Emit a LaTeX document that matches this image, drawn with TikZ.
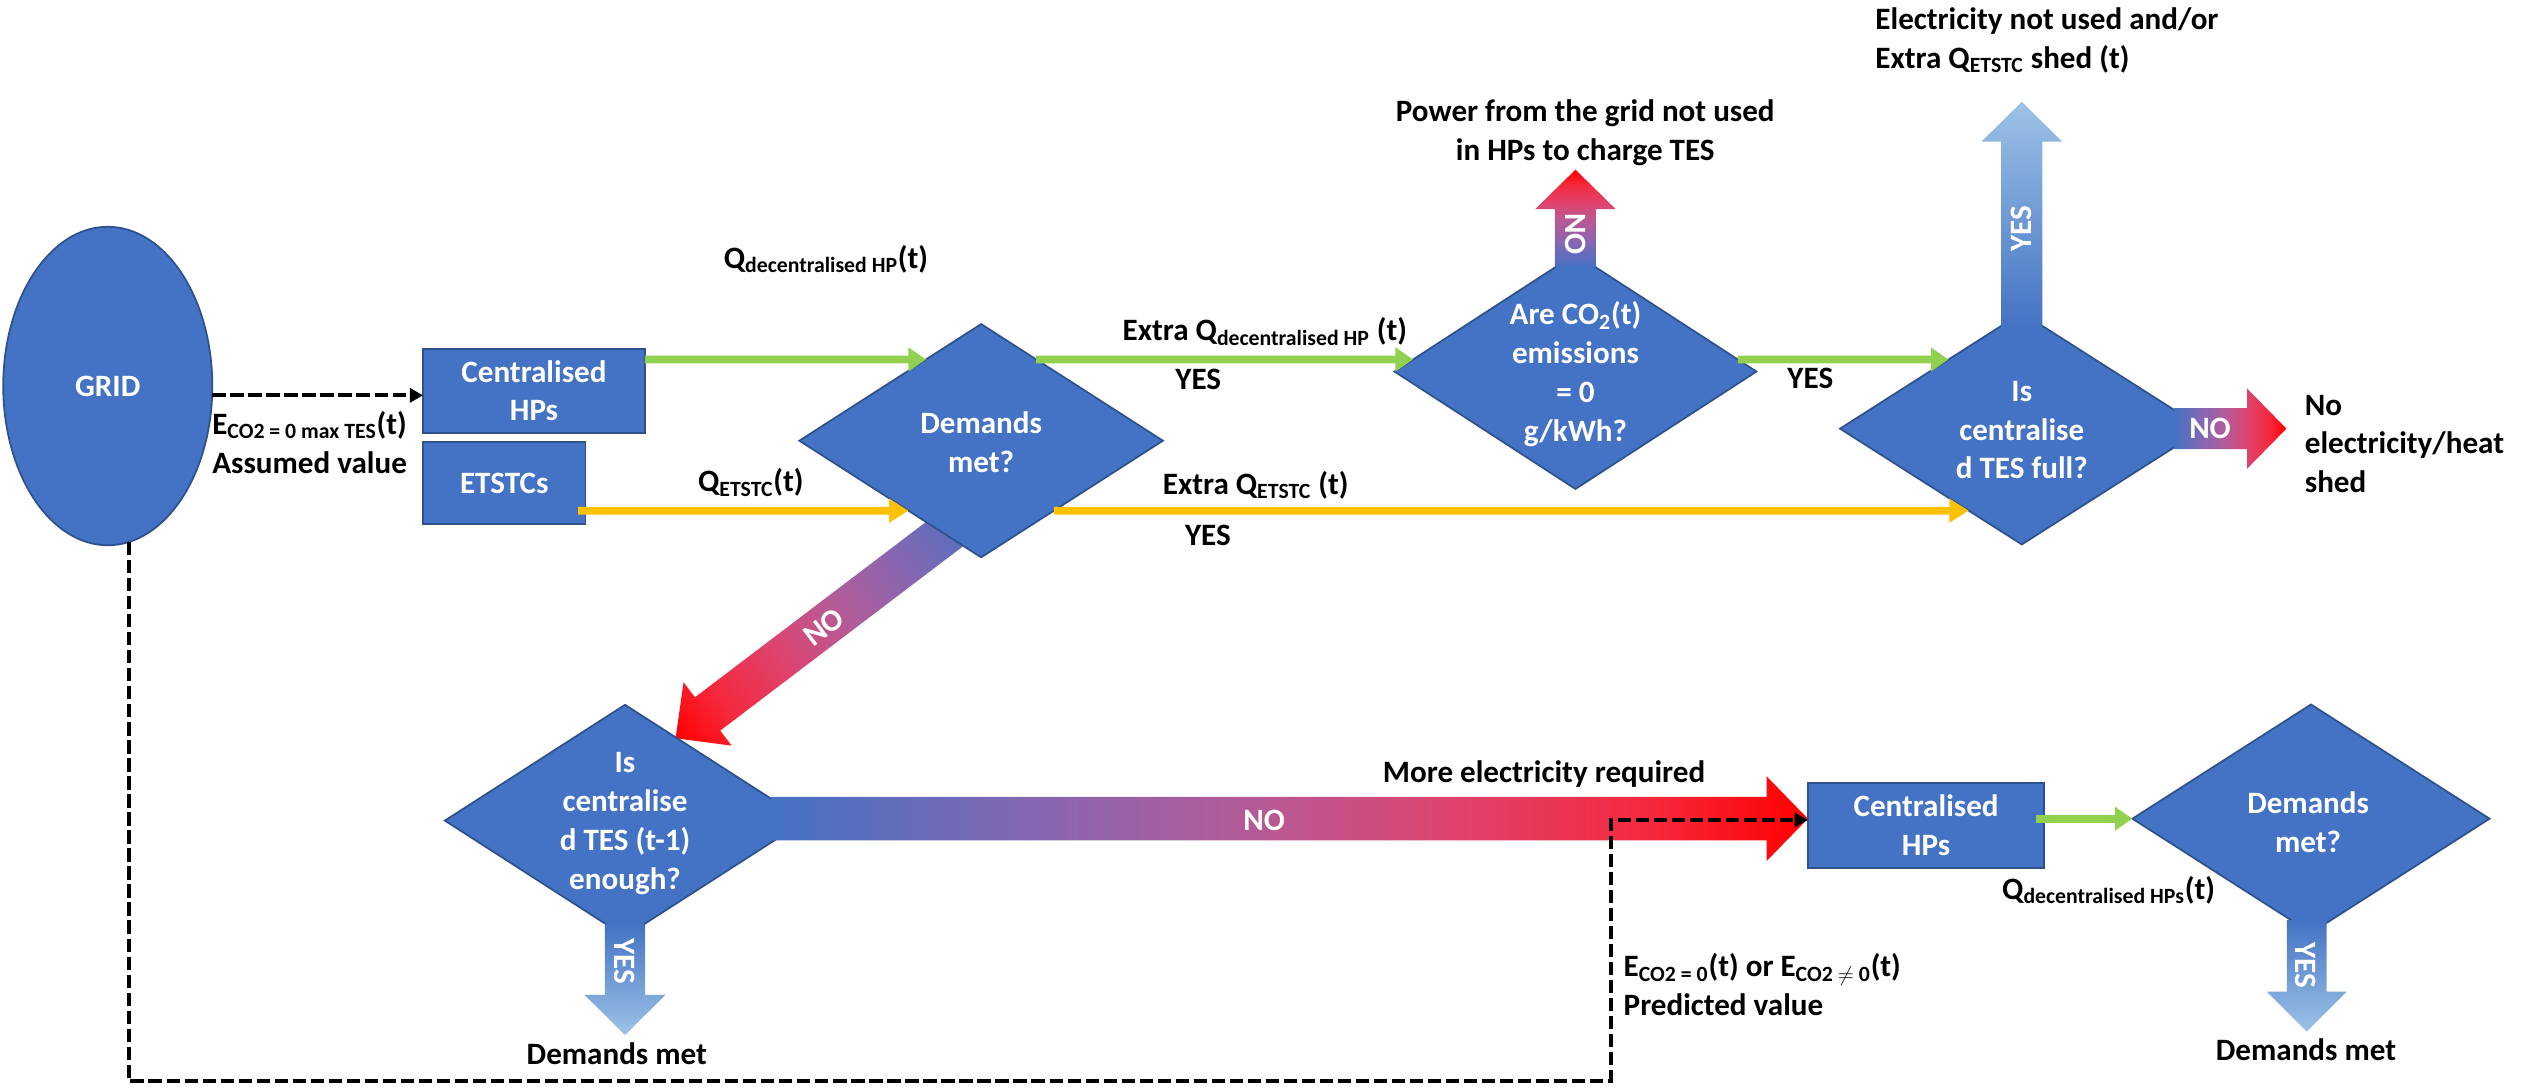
\documentclass[tikz,border=0pt]{standalone}
\usepackage{fontspec}
\setmainfont{Carlito}
\usetikzlibrary{shapes.geometric,arrows.meta,calc,backgrounds}
\definecolor{pblue}{HTML}{4472C4}
\definecolor{pborder}{HTML}{2F528F}
\definecolor{pgreen}{HTML}{92D050}
\definecolor{porange}{HTML}{FFC000}
\definecolor{plight}{HTML}{9DC3E6}
\definecolor{pred}{HTML}{FF0000}
\definecolor{gra}{HTML}{8A66B0}
\definecolor{grb}{HTML}{B65A96}
\definecolor{grc}{HTML}{DE4470}
\definecolor{grd}{HTML}{F5283C}
\pgfdeclarehorizontalshading{nogr}{100bp}{color(0bp)=(pblue); color(25bp)=(pblue); color(38.5bp)=(gra); color(48.5bp)=(grb); color(57.5bp)=(grc); color(67.5bp)=(grd); color(75bp)=(pred); color(100bp)=(pred)}
\newcommand\mysub[1]{\textsubscript{#1}}
% #1 start, #2 tip, #3 body half width, #4 head half width, #5 head length (units), #6 fill options
\newcommand\blockarrow[6]{%
  \coordinate (ba-h) at ($(#2)!#5*0.032cm!(#1)$);
  \path[#6] ($(#1)!#3*0.032cm!90:(#2)$) -- ($(ba-h)!#3*0.032cm!-90:(#1)$) -- ($(ba-h)!#4*0.032cm!-90:(#1)$) -- (#2) -- ($(ba-h)!#4*0.032cm!90:(#1)$) -- ($(ba-h)!#3*0.032cm!90:(#1)$) -- ($(#1)!#3*0.032cm!-90:(#2)$) -- cycle;}
\tikzset{
  every node/.style={font=\fontsize{17.6}{21.9}\selectfont\bfseries, inner sep=0pt, outer sep=0pt},
  pbox/.style={rectangle, fill=pblue, draw=pborder, line width=1pt, text=white, align=center},
  pdiam/.style={diamond, fill=pblue, draw=pborder, line width=1pt},
  gridnode/.style={ellipse, fill=pblue, draw=pborder, line width=1pt, text=white},
  dtext/.style={text=white, align=center},
  lab/.style={text=black, align=left},
  clab/.style={text=black, align=center},
  wlab/.style={text=white},
  garrow/.style={draw=pgreen, line width=4.4pt, -{Triangle[length=10pt,width=13pt]}},
  oarrow/.style={draw=porange, line width=4.4pt, -{Triangle[length=11pt,width=13pt]}},
  dasharrow/.style={draw=black, line width=2.2pt, dash pattern=on 7.5pt off 2.7pt, -{Triangle[length=7.5pt,width=8pt]}}
}
\begin{document}
\begin{tikzpicture}[x=0.032cm, y=-0.032cm]
\useasboundingbox (0,0) rectangle (1568,676);
% ---------- nodes ----------
\node[gridnode, minimum width=4.16cm, minimum height=6.336cm] (grid) at (67,240) {GRID};
\node[pbox, minimum width=4.416cm, minimum height=1.664cm] (hp1) at (332,243) {Centralised\\HPs};
\node[pbox, minimum width=3.232cm, minimum height=1.632cm] (etstc) at (313.5,300.5) {ETSTCs};
\node[pdiam, minimum width=7.232cm, minimum height=4.64cm] (dm1) at (610,274) {};
\node[pdiam, minimum width=7.2cm, minimum height=4.672cm] (co2) at (979.5,231) {};
\node[pdiam, minimum width=7.232cm, minimum height=4.608cm] (tes) at (1257,266.5) {};
\node[pdiam, minimum width=7.168cm, minimum height=4.608cm] (tdiam) at (388.6,510.2) {};
\node[pbox, minimum width=4.704cm, minimum height=1.68cm] (hp2) at (1197.5,513.25) {Centralised\\HPs};
\node[pdiam, minimum width=7.104cm, minimum height=4.544cm] (dm2) at (1436.8,509) {};
% diamond texts
\node[dtext] (dm1t) at (610,275) {Demands\\met?};
\node[dtext] (co2t) at (979.5,232.6) {Are CO\mysub{2}(t)\\emissions\\= 0\\g/kWh?};
\node[dtext] (test) at (1257,267.5) {Is\\centralise\\d TES full?};
\node[dtext] (tdiamt) at (388.6,512) {Is\\centralise\\d TES (t-1)\\enough?};
\node[dtext] (dm2t) at (1435,511) {Demands\\met?};
% ---------- block arrows ----------
\begin{scope}[on background layer]
  \coordinate (dgS) at ($(dm1.center)+(0,40.8)$);
  \begin{scope}[transform canvas={shift={(dgS)}, rotate=217.2}]
    \path[shading=nogr] (0,-13) -- (213.5,-13) -- (213.5,-24.75) -- (238.5,0) -- (213.5,24.75) -- (213.5,13) -- (0,13) -- cycle;
  \end{scope}
\end{scope}
\coordinate (coS) at ($(co2.north)+(0,8.3)$);
\coordinate (coT) at ($(co2.north)+(0,-52.5)$);
\blockarrow{coS}{coT}{12.75}{25}{24.5}{shading=nogr, shading angle=90}
\coordinate (tuS) at ($(tes.north)+(0,8.7)$);
\coordinate (tuT) at ($(tes.north)+(0,-131.2)$);
\blockarrow{tuS}{tuT}{12.8}{25}{24.7}{top color=plight, bottom color=pblue}
\coordinate (trS) at ($(tes.east)+(-18.5,0)$);
\coordinate (trT) at ($(tes.east)+(51.5,0)$);
\blockarrow{trS}{trT}{12.8}{25}{24.5}{shading=nogr}
\coordinate (thS) at ($(tdiam.east)+(-21,-1.2)$);
\coordinate (thT) at (thS -| hp2.west);
\blockarrow{thS}{thT}{13.5}{26.4}{25.7}{shading=nogr}
\coordinate (tdS) at ($(tdiam.south)+(0,-8)$);
\coordinate (tdT) at ($(tdiam.south)+(0,61.3)$);
\blockarrow{tdS}{tdT}{12.5}{25.2}{25}{top color=pblue, bottom color=plight}
\coordinate (ddS) at ($(dm2.south)+(-2.6,-7.9)$);
\coordinate (ddT) at ($(dm2.south)+(-2.6,61.4)$);
\blockarrow{ddS}{ddT}{12.35}{24.9}{24.9}{top color=pblue, bottom color=plight}
% ---------- thin arrows ----------
\draw[garrow] ($(hp1.north east)+(0,6.5)$) -- ($(dm1.north)!0.303!(dm1.west)$);
\draw[garrow] ($(dm1.north)!0.303!(dm1.east)$) -- ($(co2.north)!0.897!(co2.west)$);
\draw[garrow] ($(co2.north)!0.897!(co2.east)$) -- ($(tes.north)!0.403!(tes.west)$);
\draw[oarrow] ($(etstc.south east)+(-4.5,-8.5)$) -- ($(dm1.west)!0.6!(dm1.south)$);
\draw[oarrow] ($(dm1.east)!0.6!(dm1.south)$) -- ($(tes.west)!0.708!(tes.south)$);
\draw[garrow] ($(hp2.east |- dm2.west)+(-5,0)$) -- (dm2.west);
% ---------- dashed arrows ----------
\coordinate (d1) at ($(grid.east)+(0,5.8)$);
\draw[dasharrow] (d1) -- (d1 -| hp1.west);
\coordinate (d2) at ($(grid.south)+(13,-2)$);
\coordinate (d3) at ($(hp2.west)+(-122.6,-3.45)$);
\draw[dasharrow] (d2) -- ++(0,335) -| (d3) -- (d3 -| hp2.west);
% ---------- labels on block arrows ----------
\node[wlab, rotate=-90] (lno1) at ($(co2.north)+(0,-12.6)$) {NO};
\node[wlab, rotate=90] (lyes1) at ($(tes.north)+(0,-52.5)$) {YES};
\node[wlab] (lno2) at ($(tes.east)+(4,0)$) {NO};
\node[wlab, rotate=37] (lno3) at (512.3,390) {NO};
\node[wlab] (lno4) at (786,510) {NO};
\node[wlab, rotate=-90] (lyes2) at (388.6,597.5) {YES};
\node[wlab, rotate=-90] (lyes3) at (1433.7,600) {YES};
% ---------- black labels ----------
\node[lab, anchor=west] (le1) at (132,275) {E\mysub{CO2 = 0 max TES}(t)\\Assumed value};
\node[lab, anchor=west] (lq1) at (450,161) {Q\mysub{decentralised HP}(t)};
\node[lab, anchor=west] (lq2) at (698,206) {Extra Q\mysub{decentralised HP} (t)};
\node[clab] (ly1) at (745,236) {YES};
\node[lab, anchor=west] (lq3) at (434,300) {Q\mysub{ETSTC}(t)};
\node[lab, anchor=west] (lq4) at (723,301.5) {Extra Q\mysub{ETSTC} (t)};
\node[clab] (ly2) at (751,333) {YES};
\node[clab] (lpow) at (985.6,82.5) {Power from the grid not used\\in HPs to charge TES};
\node[lab, anchor=west] (lel) at (1166,25) {Electricity not used and/or\\Extra Q\mysub{ETSTC} shed (t)};
\node[clab] (ly3) at (1125.5,235.4) {YES};
\node[lab, anchor=west] (lnoel) at (1433,276) {No\\electricity/heat\\shed};
\node[clab] (lmore) at (960,481) {More electricity required};
\node[lab, anchor=west] (le2) at (1009.5,612) {E\mysub{CO2 = 0}(t) or E\mysub{CO2 $\neq$ 0}(t)\\Predicted value};
\node[clab] (ldm1) at (383.5,655.3) {Demands met};
\node[lab, anchor=west] (lq5) at (1244.8,553.4) {Q\mysub{decentralised HPs}(t)};
\node[clab] (ldm2) at (1433.7,652.8) {Demands met};
\end{tikzpicture}
\end{document}
